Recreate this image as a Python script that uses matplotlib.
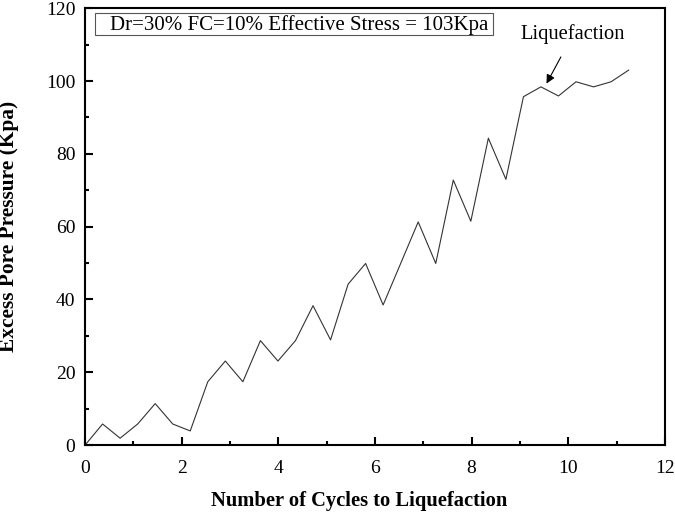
import matplotlib
matplotlib.use("Agg")
import matplotlib.pyplot as plt
from matplotlib.ticker import MultipleLocator
from matplotlib.patches import Rectangle

plt.rcParams['font.family'] = ['Liberation Serif', 'DejaVu Serif']

cycles = [0.0, 0.363, 0.726, 1.089, 1.452, 1.815, 2.177, 2.540, 2.903, 3.266,
          3.629, 3.992, 4.355, 4.718, 5.081, 5.444, 5.806, 6.169, 6.532, 6.895,
          7.258, 7.621, 7.984, 8.347, 8.710, 9.073, 9.435, 9.798, 10.161, 10.524,
          10.887, 11.250]
pressure = [0.0, 5.8, 1.9, 5.8, 11.4, 5.8, 3.9, 17.4, 23.1, 17.4,
            28.7, 23.1, 28.7, 38.3, 28.9, 44.2, 49.9, 38.5, 49.9, 61.3,
            49.9, 72.8, 61.5, 84.3, 73.0, 95.7, 98.4, 95.9, 99.8, 98.4,
            99.8, 103.0]

fig = plt.figure(figsize=(6.75, 5.14), dpi=100)
ax = fig.add_axes([0.126, 0.134, 0.859, 0.850])
ax.plot(cycles, pressure, color='#333333', linewidth=0.8)

ax.set_xlim(0, 12)
ax.set_ylim(0, 120)
ax.xaxis.set_major_locator(MultipleLocator(2))
ax.xaxis.set_minor_locator(MultipleLocator(1))
ax.yaxis.set_major_locator(MultipleLocator(20))
ax.yaxis.set_minor_locator(MultipleLocator(10))
ax.tick_params(which='major', direction='in', length=6, width=1.5, labelsize=14,
               top=False, right=False)
ax.tick_params(axis='x', which='major', pad=11)
ax.tick_params(axis='y', which='major', pad=7)
ax.tick_params(which='minor', direction='in', length=3, width=1.5, top=False, right=False)
for s in ax.spines.values():
    s.set_linewidth(1.5)

ax.set_xlabel('Number of Cycles to Liquefaction', fontsize=14.8, fontweight='bold')
ax.xaxis.set_label_coords(0.472, -0.105)
ax.set_ylabel('Excess Pore Pressure (Kpa)', fontsize=15.4, fontweight='bold')
ax.yaxis.set_label_coords(-0.114, 0.5)

ax.add_patch(Rectangle((0.017, 0.938), 0.686, 0.051, transform=ax.transAxes,
                       facecolor='white', edgecolor='#555555', linewidth=0.8, zorder=3))
ax.text(0.043, 0.962, 'Dr=30% FC=10% Effective Stress = 103Kpa', fontsize=15,
        va='center', ha='left', transform=ax.transAxes, zorder=4)

ax.annotate('Liquefaction', xy=(9.55, 99.3), xytext=(10.1, 112.8), fontsize=14.8,
            ha='center', va='center',
            arrowprops=dict(arrowstyle='-|>', color='black', linewidth=0.8,
                            shrinkA=8, shrinkB=0, mutation_scale=13))

fig.savefig('out.png', dpi=100)
